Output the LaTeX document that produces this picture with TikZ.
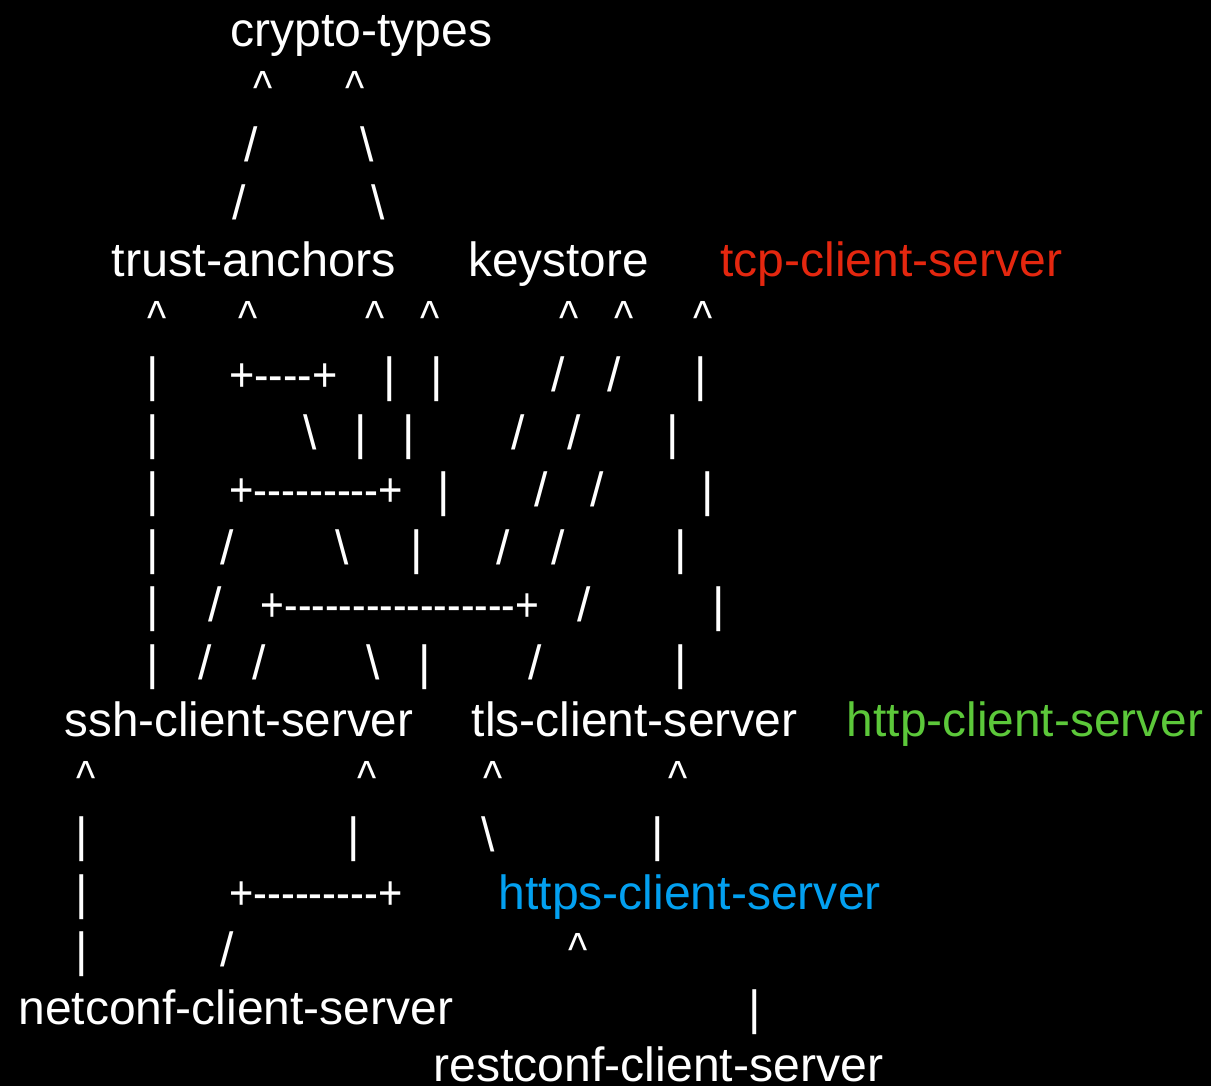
\documentclass[tikz,border=0pt]{standalone}
\usepackage{fontspec}
\setmainfont{Liberation Sans}
\usepackage{graphicx}
\definecolor{tcpred}{HTML}{E4270F}
\definecolor{httpgreen}{HTML}{5CC83A}
\definecolor{httpsblue}{HTML}{03A0F0}
\newcommand\bigf{\fontsize{48}{58}\selectfont}
\newcommand\fitw[2]{\resizebox{#1pt}{\height}{#2}}
\newcommand\hy{-\kern0pt}
\newcommand\caret{\scalebox{0.85}[1]{\textasciicircum}}
\tikzset{
  lab/.style={anchor=base west, inner sep=0pt, outer sep=0pt, font=\bigf, text=white},
  glyph/.style={anchor=base, inner sep=0pt, outer sep=0pt, font=\bigf, text=white},
}
\begin{document}
\begin{tikzpicture}[x=1pt,y=-1pt]
\fill[black] (0,0) rectangle (1211,1086);
\useasboundingbox (0,0) rectangle (1211,1086);
% labels
\node[lab] (crypto) at (230.2,46.7) {\fitw{262}{crypto-types}};
\node[lab] (trust) at (111.8,276.7) {\fitw{284}{trust-anchors}};
\node[lab] (keystore) at (468.5,276.7) {\fitw{180.3}{keystore}};
\node[lab,text=tcpred] (tcp) at (720.2,276.7) {\fitw{342}{tcp-client-server}};
\node[lab] (ssh) at (64.5,736.7) {\fitw{348.7}{ssh-client-server}};
\node[lab] (tls) at (471.8,736.7) {\fitw{325.7}{tls-client-server}};
\node[lab,text=httpgreen] (http) at (846.8,736.7) {\fitw{356.4}{http-client-server}};
\node[lab,text=httpsblue] (https) at (498.5,909.2) {\fitw{382.3}{https-client-server}};
\node[lab] (netconf) at (18.5,1024.2) {\fitw{434.7}{netconf-client-server}};
\node[lab] (restconf) at (433.5,1081.7) {\fitw{449.7}{restconf-client-server}};
% plus-dash runs
\node[lab] (p1) at (229.2,391.7) {\fitw{108.3}{+\hy\hy\hy\hy+}};
\node[lab] (p2) at (229.2,506.7) {\fitw{174}{+\hy\hy\hy\hy\hy\hy\hy\hy\hy+}};
\node[lab] (p3) at (260.8,621.7) {\fitw{278.4}{+\hy\hy\hy\hy\hy\hy\hy\hy\hy\hy\hy\hy\hy\hy\hy\hy\hy+}};
\node[lab] (p4) at (229.2,909.2) {\fitw{173.3}{+\hy\hy\hy\hy\hy\hy\hy\hy\hy+}};
% carets
\foreach \x/\y [count=\i] in {263.3/104.2, 355/104.2,
  156.7/334.2, 248.3/334.2, 375/334.2, 430/334.2, 569/334.2, 624/334.2, 703.3/334.2,
  86/794.2, 366.7/794.2, 493/794.2, 678.3/794.2, 578.3/966.7}
  \node[glyph] (c\i) at (\x,\y) {\caret};
% bars
\foreach \x/\y [count=\i] in {152.7/391.7, 389.3/391.7, 436.7/391.7, 700.7/391.7,
  152.7/449.2, 361/449.2, 408.7/449.2, 672.7/449.2,
  152.7/506.7, 443.3/506.7, 707.3/506.7,
  152.7/564.2, 416.7/564.2, 681/564.2,
  152.7/621.7, 718.3/621.7,
  152.7/679.2, 425/679.2, 681/679.2,
  81.7/851.7, 354/851.7, 657.3/851.7,
  81.7/909.2, 81.7/966.7, 755/1024.2}
  \node[glyph] (b\i) at (\x,\y) {\textbar};
% slashes
\foreach \x/\y [count=\i] in {250.8/161.7, 239.2/219.2,
  558.3/391.7, 613.8/391.7,
  518.3/449.2, 573.8/449.2,
  541.3/506.7, 596.7/506.7,
  227.3/564.2, 503.3/564.2, 558.3/564.2,
  215.3/621.7, 583.8/621.7,
  204.7/679.2, 258.7/679.2, 534.7/679.2,
  227.5/966.7}
  \node[glyph] (s\i) at (\x,\y) {/};
% backslashes
\foreach \x/\y [count=\i] in {366.7/161.7, 378.3/219.2, 310.5/449.2,
  341.7/564.2, 373.3/679.2, 488.3/851.7}
  \node[glyph] (k\i) at (\x,\y) {\textbackslash};
\end{tikzpicture}
\end{document}
